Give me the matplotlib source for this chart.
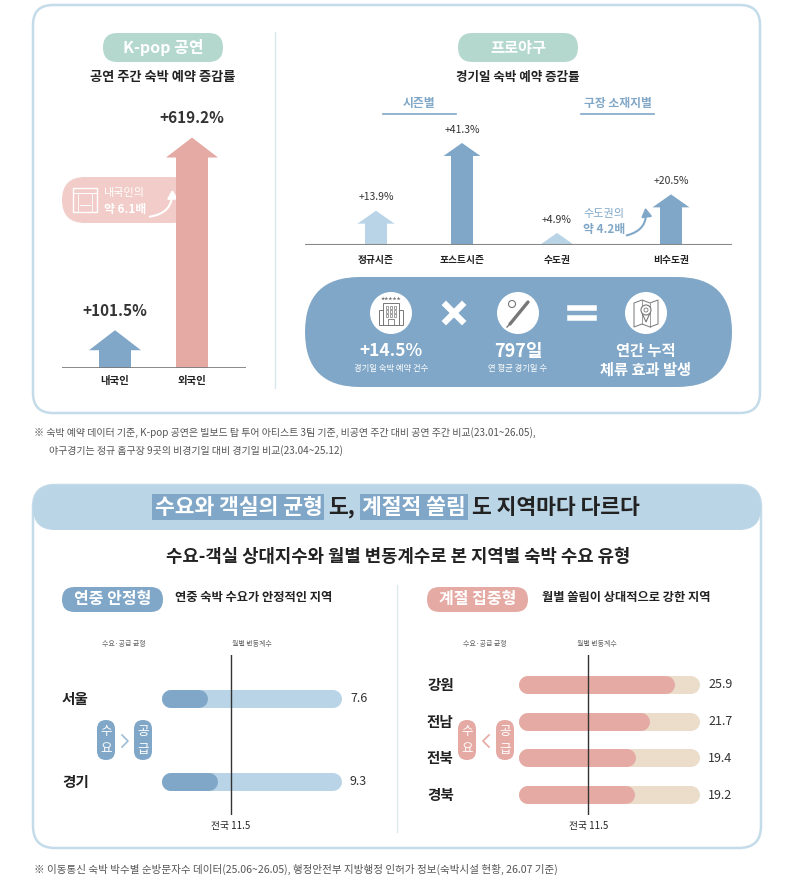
import matplotlib
matplotlib.use("Agg")
import matplotlib.pyplot as plt
from matplotlib.patches import FancyBboxPatch, FancyArrow, FancyArrowPatch, Circle, Polygon, Rectangle

plt.rcParams['font.family'] = ['Noto Sans CJK KR', 'DejaVu Sans']

W, H = 793, 885

# 데이터
kpop_groups = ['내국인', '외국인']
kpop_growth = [101.5, 619.2]
kpop_ratio = 6.1

baseball_groups = ['정규시즌', '포스트시즌', '수도권', '비수도권']
baseball_growth = [13.9, 41.3, 4.9, 20.5]
baseball_ratio = 4.2
booking_growth = 14.5
avg_game_days = 797

stable_regions = ['서울', '경기']
stable_cv = [7.6, 9.3]
seasonal_regions = ['강원', '전남', '전북', '경북']
seasonal_cv = [25.9, 21.7, 19.4, 19.2]
national_cv = 11.5
cv_axis_max = 30

# 색상
BLUE = '#80a7c7'
LBLUE = '#b9d4e6'
PINK = '#e5aaa4'
LPINK = '#f2ccc8'
MINT = '#b5d8ce'
BEIGE = '#ebddca'
BORDER = '#c4dbe9'
TXT = '#222222'
GREY = '#777777'

fig = plt.figure(figsize=(W / 100, H / 100), dpi=100)
fig.patch.set_facecolor('white')

bg = fig.add_axes([0, 0, 1, 1])
bg.set_xlim(0, W)
bg.set_ylim(H, 0)
bg.axis('off')


def px_axes(x0, y0, x1, y1):
    ax = fig.add_axes([x0 / W, 1 - y1 / H, (x1 - x0) / W, (y1 - y0) / H])
    ax.axis('off')
    ax.patch.set_alpha(0)
    return ax


def rbox(x0, y0, x1, y1, r, fc, ec='none', lw=0, z=1):
    p = FancyBboxPatch((x0, y0), x1 - x0, y1 - y0,
                       boxstyle=f'round,pad=0,rounding_size={r}',
                       fc=fc, ec=ec, lw=lw, zorder=z)
    bg.add_patch(p)


def txt(x, y, s, size, color=TXT, weight='normal', ha='center', va='center', **kw):
    return bg.text(x, y, s, fontsize=size, color=color, fontweight=weight,
                   ha=ha, va=va, **kw)


# ---------------- 상단 패널 ----------------
rbox(33, 5, 760, 413, 20, 'white', BORDER, 1.8)
bg.plot([275, 275], [32, 388], color='#d8e6ee', lw=1)

# K-pop
rbox(103, 33, 223, 62, 14.5, MINT, z=2)
txt(163, 48, 'K-pop 공연', 11.5, 'white', 'bold')
txt(163, 77, '공연 주간 숙박 예약 증감률', 9.5, weight='bold')

rbox(62, 177, 195, 223, 23, LPINK, z=1)
bg.add_patch(Rectangle((73, 188), 24, 24, fill=False, ec='white', lw=1, zorder=3))
bg.plot([73, 97], [193, 193], color='white', lw=0.8, zorder=3)
bg.plot([78, 78], [193, 212], color='white', lw=0.6, zorder=3)
bg.plot([92, 92], [193, 212], color='white', lw=0.6, zorder=3)
bg.plot([80, 90], [205, 205], color='white', lw=0.8, zorder=3)
txt(104, 193, '내국인의', 8, 'white', ha='left')
txt(104, 209, f'약 {kpop_ratio}배', 8.5, 'white', 'bold', ha='left')
bg.add_patch(FancyArrowPatch((147, 217), (172, 187), connectionstyle='arc3,rad=0.5',
                             arrowstyle='-|>,head_length=5,head_width=3',
                             color='white', lw=1.5, zorder=3))

ax1 = px_axes(62, 100, 246, 368)
ax1.set_xlim(62, 246)
ax1.set_ylim(0, 720)
kpop_x = [115, 192]
kpop_colors = [BLUE, PINK]
hl1 = 20 * 720 / 268
for x, v, c, g in zip(kpop_x, kpop_growth, kpop_colors, kpop_groups):
    ax1.add_patch(FancyArrow(x, 0, 0, v, width=32, head_width=52, head_length=hl1,
                             length_includes_head=True, fc=c, ec='none'))
    ax1.annotate(f'+{v}%', (x, v), xytext=(0, 8), textcoords='offset points',
                 ha='center', va='bottom', fontsize=11, fontweight='bold', color='#333')
    ax1.annotate(g, (x, 0), xytext=(0, -6), textcoords='offset points',
                 ha='center', va='top', fontsize=7.5, fontweight='bold', color=TXT,
                 annotation_clip=False)
ax1.axhline(0, color=GREY, lw=1.2)

# 프로야구
rbox(458, 33, 578, 62, 14.5, MINT, z=2)
txt(518, 48, '프로야구', 11, 'white', 'bold')
txt(518, 78, '경기일 숙박 예약 증감률', 9, weight='bold')
txt(419, 104, '시즌별', 8.5, BLUE, 'bold')
bg.plot([383, 456], [114, 114], color=BLUE, lw=1.2)
txt(618, 104, '구장 소재지별', 8.5, BLUE, 'bold')
bg.plot([581, 654], [114, 114], color=BLUE, lw=1.2)

ax2 = px_axes(305, 120, 732, 245)
ax2.set_xlim(305, 732)
ax2.set_ylim(0, 125 / 2.47)
baseball_x = [376, 462, 557, 671]
baseball_colors = [LBLUE, BLUE, LBLUE, BLUE]
hl2 = 13 / 2.47
for x, v, c, g in zip(baseball_x, baseball_growth, baseball_colors, baseball_groups):
    h = min(hl2, v)
    ax2.add_patch(FancyArrow(x, 0, 0, v, width=22, head_width=37 * h / hl2, head_length=h,
                             length_includes_head=True, fc=c, ec='none'))
    ax2.annotate(f'+{v}%', (x, v), xytext=(0, 6), textcoords='offset points',
                 ha='center', va='bottom', fontsize=7.5, color='#333')
    ax2.annotate(g, (x, 0), xytext=(0, -7), textcoords='offset points',
                 ha='center', va='top', fontsize=7, fontweight='bold', color=TXT,
                 annotation_clip=False)
ax2.axhline(0, color='#888888', lw=1.5)

txt(583, 214, '수도권의', 8, BLUE, ha='left')
txt(583, 230, f'약 {baseball_ratio}배', 8.5, BLUE, 'bold', ha='left')
bg.add_patch(FancyArrowPatch((624, 236), (645, 205), connectionstyle='arc3,rad=0.5',
                             arrowstyle='-|>,head_length=5,head_width=3',
                             color=BLUE, lw=1.5, zorder=3))

# 공식 pill
rbox(305, 277, 732, 387, 55, BLUE)
for cx in [391, 518, 646]:
    bg.add_patch(Circle((cx, 313), 21, fc='white', ec='none', zorder=2))
bg.plot([446, 462], [305, 321], color='white', lw=4.5, zorder=2)
bg.plot([446, 462], [321, 305], color='white', lw=4.5, zorder=2)
bg.plot([570, 594], [308, 308], color='white', lw=4, zorder=2)
bg.plot([570, 594], [318, 318], color='white', lw=4, zorder=2)

# 호텔 아이콘
bg.add_patch(Rectangle((383, 303), 16, 22, fill=False, ec=GREY, lw=0.7, zorder=3))
bg.add_patch(Rectangle((379, 310), 4, 15, fill=False, ec=GREY, lw=0.7, zorder=3))
bg.add_patch(Rectangle((399, 310), 4, 15, fill=False, ec=GREY, lw=0.7, zorder=3))
for wx in [386, 390, 394]:
    for wy in [306, 310, 314]:
        bg.add_patch(Rectangle((wx, wy), 2, 2.5, fill=False, ec=GREY, lw=0.5, zorder=3))
bg.add_patch(Rectangle((388, 319), 6, 6, fill=False, ec=GREY, lw=0.6, zorder=3))
txt(391, 299, '★★★★★', 3, GREY)

# 배트 아이콘
bg.plot([510, 528], [324, 302], color=GREY, lw=2.4, solid_capstyle='round', zorder=3)
bg.plot([507, 511], [327, 323], color=GREY, lw=1.0, zorder=3)
bg.add_patch(Circle((512, 304), 3.5, fill=False, ec=GREY, lw=0.8, zorder=3))

# 지도 아이콘
bg.add_patch(Polygon([(634, 303), (642, 300), (650, 303), (658, 300), (658, 324),
                      (650, 327), (642, 324), (634, 327)], closed=True,
                     fill=False, ec=GREY, lw=0.7, zorder=3))
bg.plot([642, 642], [300, 324], color=GREY, lw=0.5, zorder=3)
bg.plot([650, 650], [303, 327], color=GREY, lw=0.5, zorder=3)
bg.add_patch(Circle((646, 310), 5, fc='white', ec=GREY, lw=0.8, zorder=4))
bg.add_patch(Polygon([(642, 313), (650, 313), (646, 322)], closed=True,
                     fc='white', ec=GREY, lw=0.8, zorder=3))
bg.add_patch(Circle((646, 310), 2, fill=False, ec=GREY, lw=0.6, zorder=5))

txt(391, 351, f'+{booking_growth}%', 12.5, 'white', 'bold')
txt(391, 369, '경기일 숙박 예약 건수', 6, 'white')
txt(518, 351, f'{avg_game_days}일', 13, 'white', 'bold')
txt(518, 369, '연 평균 경기일 수', 6, 'white')
txt(646, 351, '연간 누적', 11, 'white', 'bold')
txt(646, 370, '체류 효과 발생', 11, 'white', 'bold')

txt(34, 433, '※ 숙박 예약 데이터 기준, K-pop 공연은 빌보드 탑 투어 아티스트 3팀 기준, '
    '비공연 주간 대비 공연 주간 비교(23.01~26.05),', 7.2, '#555555', ha='left')
txt(49, 451, '야구경기는 정규 홈구장 9곳의 비경기일 대비 경기일 비교(23.04~25.12)',
    7.2, '#555555', ha='left')

# ---------------- 하단 패널 ----------------
rbox(33, 485, 761, 848, 22, 'white', BORDER, 1.8)
rbox(33, 485, 761, 530, 22, '#bad5e6', z=2)

renderer = fig.canvas.get_renderer()
pieces = [('수요와 객실의 균형', True, 6), ('도,', False, 7),
          ('계절적 쏠림', True, 6), ('도 지역마다 다르다', False, 0)]
texts = []
for s, hi, gap in pieces:
    kw = {}
    if hi:
        kw['bbox'] = dict(boxstyle='square,pad=0.1', fc=BLUE, ec='none')
    t = txt(0, 507, s, 15.5, 'white' if hi else TXT, 'bold', ha='left', zorder=4, **kw)
    texts.append((t, gap))
widths = [t.get_window_extent(renderer).width for t, _ in texts]
total = sum(widths) + sum(g for _, g in texts)
x = 397 - total / 2
for (t, gap), w in zip(texts, widths):
    t.set_x(x)
    x += w + gap

txt(398, 557, '수요-객실 상대지수와 월별 변동계수로 본 지역별 숙박 수요 유형', 12.8, weight='bold')

rbox(62, 587, 163, 612, 12.5, BLUE)
txt(112.5, 599, '연중 안정형', 11.5, 'white', 'bold')
txt(175, 598, '연중 숙박 수요가 안정적인 지역', 8.8, weight='bold', ha='left')
rbox(427, 587, 528, 612, 12.5, PINK)
txt(477.5, 599, '계절 집중형', 11.5, 'white', 'bold')
txt(542, 598, '월별 쏠림이 상대적으로 강한 지역', 8.8, weight='bold', ha='left')
bg.plot([397, 397], [585, 832], color='#dde8ef', lw=1)

for lx, rx in [(124, 252), (485, 597)]:
    txt(lx, 644, '수요·공급 균형', 5, '#666666')
    txt(rx, 644, '월별 변동계수', 5, '#666666')


def badge(cx, chars, color):
    rbox(cx - 9, 720, cx + 9, 760, 9, color, z=2)
    txt(cx, 731, chars[0], 9, 'white', zorder=3)
    txt(cx, 749, chars[1], 9, 'white', zorder=3)


badge(106, '수요', BLUE)
badge(143, '공급', BLUE)
bg.plot([122, 128, 122], [735, 741, 747], color='#9dbdd6', lw=1.2)
badge(467, '수요', PINK)
badge(505, '공급', PINK)
bg.plot([489, 483, 489], [735, 741, 747], color=PINK, lw=1.2)


def cv_bars(rect, regions, cvs, track_c, bar_c, ylim):
    ax = px_axes(*rect)
    ax.set_xlim(0, cv_axis_max)
    ax.set_ylim(*ylim)
    r = 9 * cv_axis_max / (rect[2] - rect[0])
    lw = 18 * 0.72
    label_dx = 100 if rect[0] < 300 else 92
    for i, (name, v) in enumerate(zip(regions, cvs)):
        ax.plot([r, cv_axis_max - r], [i, i], color=track_c, lw=lw,
                solid_capstyle='round', clip_on=False)
        ax.plot([r, v - r], [i, i], color=bar_c, lw=lw,
                solid_capstyle='round', clip_on=False)
        ax.annotate(name, (0, i), xytext=(-label_dx, 0), textcoords='offset pixels',
                    ha='left', va='center', fontsize=10.5, fontweight='bold', color=TXT,
                    annotation_clip=False)
        ax.annotate(f'{v}', (cv_axis_max, i), xytext=(8, 0), textcoords='offset pixels',
                    ha='left', va='center', fontsize=9, color='#333',
                    annotation_clip=False)
    ax.axvline(national_cv, color='#333333', lw=1, zorder=5)
    ax.annotate(f'전국 {national_cv}', (national_cv, 0), xycoords=('data', 'axes fraction'),
                xytext=(0, -4), textcoords='offset points', ha='center', va='top',
                fontsize=7, color=TXT, annotation_clip=False)
    return ax


cv_bars((162, 655, 342, 815), stable_regions, stable_cv, LBLUE, BLUE, (1.40, -0.53))
cv_bars((519, 655, 700, 815), seasonal_regions, seasonal_cv, BEIGE, PINK, (3.545, -0.818))

txt(34, 869, '※ 이동통신 숙박 박수별 순방문자수 데이터(25.06~26.05), '
    '행정안전부 지방행정 인허가 정보(숙박시설 현황, 26.07 기준)', 7.6, '#555555', ha='left')

fig.savefig('out.png', dpi=100, facecolor='white')
